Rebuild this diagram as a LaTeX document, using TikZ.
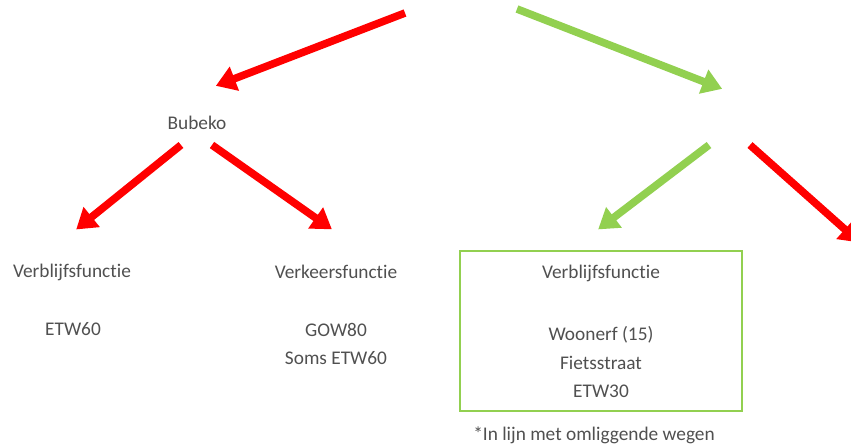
\documentclass[tikz,border=0pt]{standalone}
\usepackage{fontspec}
\setmainfont{Carlito}[RawFeature={-liga;-clig;-calt;-dlig}]
\usetikzlibrary{arrows.meta,positioning}
\definecolor{keepred}{HTML}{FF0000}
\definecolor{keepgreen}{HTML}{92D050}
\definecolor{txtgray}{HTML}{505050}
\tikzset{redarrow/.style={line width=6.5pt, draw=keepred, -{Triangle[length=17pt,width=21pt]}, shorten >=-2pt}}
\tikzset{greenarrow/.style={line width=6.5pt, draw=keepgreen, -{Triangle[length=17pt,width=21pt]}, shorten >=-2pt}}
\tikzset{lbl/.style={inner sep=0pt, text=txtgray, font=\fontsize{16.5}{24}\selectfont, align=center}}
\tikzset{greenbox/.style={draw=keepgreen, line width=2pt}}

\begin{document}
\begin{tikzpicture}[x=0.03cm, y=-0.03cm]
    \clip (0,0) rectangle (851,446);
    % top level
    \coordinate (redtail) at (405,13);
    \coordinate (greentail) at (517,9);
    \coordinate (greenhead) at (720,88);
    \node [lbl] (bubeko) at (197,123) {Bubeko};
    \coordinate (bubekoleft) at (218,85);
    % second level
    \coordinate (bl) at (181,145);
    \coordinate (br) at (212,145);
    \coordinate (gl) at (709,145);
    \coordinate (gr) at (750,145);
    \coordinate (blhead) at (78,228);
    \coordinate (brhead) at (330,228);
    \coordinate (glhead) at (600,228);
    \coordinate (grhead) at (858,241);
    % leaves
    \node [lbl] (verblijf1) at (72,272) {Verblijfsfunctie};
    \node [lbl] (etw60) at (73,329) {ETW60};
    \node [lbl] (verkeer) at (336,272) {Verkeersfunctie};
    \node [lbl] (gow80) at (336,344) {GOW80\\Soms ETW60};
    \draw [greenbox] (460,251) rectangle (742,411);
    \node [lbl] (verblijf2) at (601,273) {Verblijfsfunctie};
    \node [lbl] (woonerf) at (601,362) {Woonerf (15)\\Fietsstraat\\ETW30};
    \node [lbl] (noot) at (594,435) {*In lijn met omliggende wegen};
    % arrows
    \draw [redarrow] (redtail) -- (bubekoleft);
    \draw [greenarrow] (greentail) -- (greenhead);
    \draw [redarrow] (bl) -- (blhead);
    \draw [redarrow] (br) -- (brhead);
    \draw [greenarrow] (gl) -- (glhead);
    \draw [redarrow] (gr) -- (grhead);
\end{tikzpicture}
\end{document}
